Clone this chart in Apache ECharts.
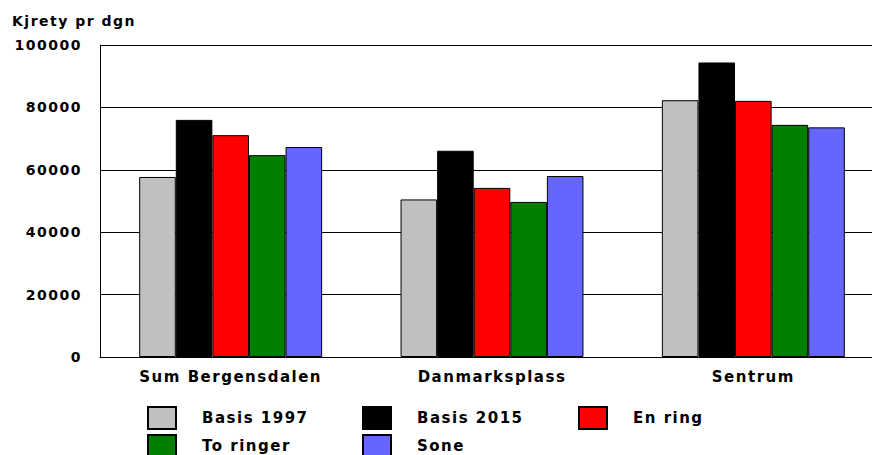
<!DOCTYPE html>
<html>
<head>
<meta charset="utf-8">
<script src="https://cdn.jsdelivr.net/npm/echarts@6/dist/echarts.min.js"></script>
<style>
html,body{margin:0;padding:0;background:#fff;}
#c{width:872px;height:455px;}
#c svg text{letter-spacing:1.5px;}
</style>
</head>
<body>
<div id="c"></div>
<script>
var categories = ['Sum Bergensdalen', 'Danmarksplass', 'Sentrum'];
var seriesNames = ['Basis 1997', 'Basis 2015', 'En ring', 'To ringer', 'Sone'];
var basis1997 = [57700, 50500, 82300];
var basis2015 = [76000, 66100, 94400];
var enRing = [71100, 54200, 82100];
var toRinger = [64700, 49700, 74400];
var sone = [67300, 58000, 73600];
var yTicks = [0, 20000, 40000, 60000, 80000, 100000];
var colors = ['#c0c0c0', '#000000', '#ff0000', '#008000', '#6666ff'];
var values = [basis1997, basis2015, enRing, toRinger, sone];

var font = 'DejaVu Sans';
var chart = echarts.init(document.getElementById('c'), null, {renderer: 'svg'});

var legendPos = [[147, 406], [362, 406], [578, 406], [147, 434], [362, 434]];
var legends = seriesNames.map(function (n, i) {
  return {
    data: [n],
    left: legendPos[i][0],
    top: legendPos[i][1],
    padding: 0,
    icon: 'rect',
    itemWidth: 28,
    itemHeight: 22,
    selectedMode: false,
    textStyle: {fontFamily: font, fontWeight: 'bold', fontSize: 15, color: '#000', padding: [0, 0, 0, 21]}
  };
});

chart.setOption({
  animation: false,
  backgroundColor: '#fff',
  title: {
    text: 'Kjrety pr dgn',
    left: 12,
    top: 14,
    padding: 0,
    textStyle: {fontFamily: font, fontWeight: 'bold', fontSize: 14, color: '#000'}
  },
  legend: legends,
  grid: {left: 100, top: 45, width: 784, height: 312, containLabel: false, outerBoundsMode: 'none'},
  xAxis: {
    type: 'category',
    data: categories,
    axisLine: {show: true, lineStyle: {color: '#000', width: 1}},
    axisTick: {show: false},
    axisLabel: {margin: 12, fontFamily: font, fontWeight: 'bold', fontSize: 15, color: '#000'}
  },
  yAxis: {
    type: 'value',
    min: yTicks[0],
    max: yTicks[yTicks.length - 1],
    interval: 20000,
    axisLine: {show: true, lineStyle: {color: '#000', width: 1}},
    axisTick: {show: false},
    splitLine: {show: true, lineStyle: {color: '#000', width: 1}},
    axisLabel: {
      margin: 18,
      fontFamily: font, fontWeight: 'bold', fontSize: 14, color: '#000',
      formatter: function (v) { return String(v); }
    }
  },
  series: seriesNames.map(function (n, i) {
    return {
      name: n,
      type: 'bar',
      data: values[i],
      barGap: '0%',
      barCategoryGap: '30%',
      itemStyle: {color: colors[i], borderColor: '#000', borderWidth: 1}
    };
  })
});
</script>
</body>
</html>
